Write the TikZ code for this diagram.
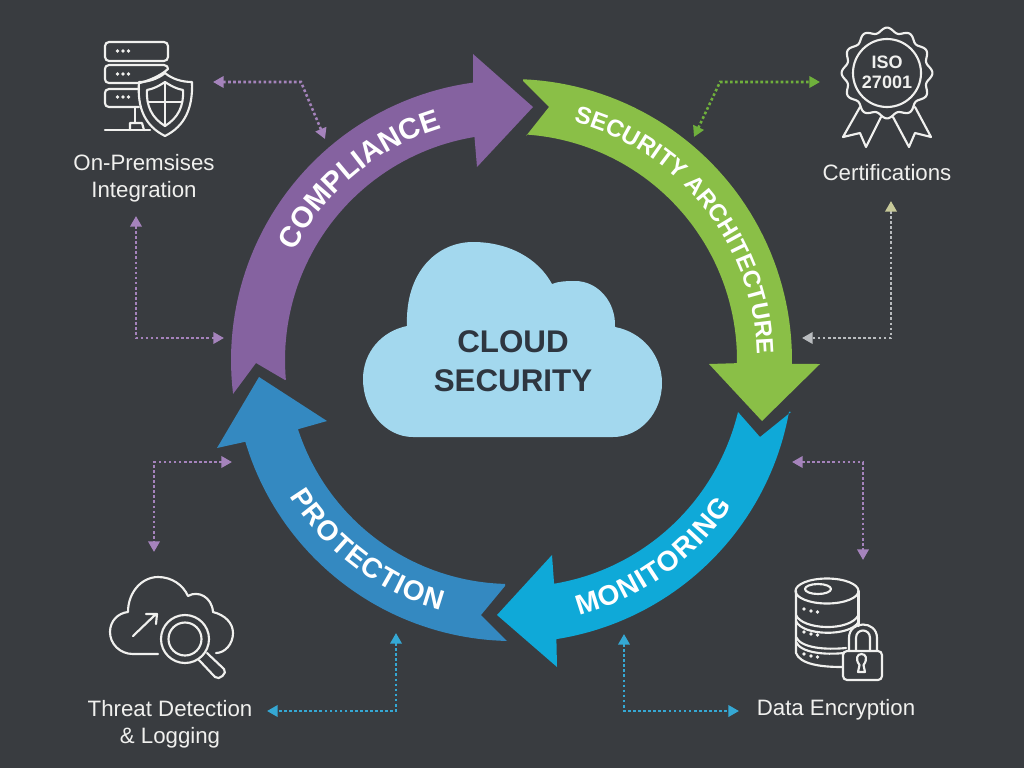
\documentclass[tikz,border=0pt]{standalone}
\usepackage{fontspec}
\setmainfont{Liberation Sans}
\usetikzlibrary{arrows.meta,decorations.text}
\definecolor{bgc}{HTML}{393C40}
\definecolor{purp}{HTML}{8562A0}
\definecolor{gren}{HTML}{8ABF47}
\definecolor{cyanc}{HTML}{0FA9D8}
\definecolor{blu}{HTML}{3489C1}
\definecolor{cloudc}{HTML}{A3D8EE}
\definecolor{ink}{HTML}{2E3640}
\definecolor{icon}{HTML}{F0F0EE}
\definecolor{lpurp}{HTML}{A583BC}
\definecolor{lgreen}{HTML}{6FB03C}
\definecolor{lblue}{HTML}{35A8D4}
\definecolor{lgrey}{HTML}{B9BCBF}
\newcommand{\ringfont}[1]{\fontsize{#1}{#1}\selectfont\bfseries}
\tikzset{
  icn/.style={draw=icon,line width=1.6pt,line cap=round,line join=round},
  dotfill/.style={fill=icon,draw=none},
  lab/.style={text=icon,font=\fontsize{16.7}{20.5}\selectfont,align=center,inner sep=0pt},
  link/.style={line width=1.9pt,dash pattern=on 2pt off 1.8pt,{Triangle[length=8pt,width=8.5pt]}-{Triangle[length=8pt,width=8.5pt]}},
  ringtext/.style={decorate,decoration={text along path,text align=center,text color=white,text={#1}}}
}
\begin{document}
\begin{tikzpicture}[x=0.75pt,y=-0.75pt]
\useasboundingbox (0,0) rectangle (1024,768);
\fill[bgc] (0,0) rectangle (1024,768);

% ring arrows
\fill[purp] (233,394) -- (256,363) -- (285,380)
  -- plot[domain=175:260.7,samples=50] ({511+226*cos(\x)},{360+226*sin(\x)})
  -- (477,167) -- (533,107) -- (473,54)
  -- plot[domain=262.2:173,samples=50] ({511+280*cos(\x)},{360+280*sin(\x)}) -- cycle;
\fill[gren] (523,81) -- (549,107) -- (526,136)
  -- plot[domain=-86:0.8,samples=50] ({511+226*cos(\x)},{360+226*sin(\x)})
  -- (709,364) -- (762,421) -- (820,364)
  -- plot[domain=0.8:-87.5,samples=50] ({511+281*cos(\x)},{360+281*sin(\x)}) -- cycle;
\fill[cyanc] (791,412) -- (760,437) -- (738,412)
  -- plot[domain=12.5:79.5,samples=50] ({513+(230.5-5*(\x-12.5)/67)*cos(\x)},{362+(230.5-5*(\x-12.5)/67)*sin(\x)})
  -- (552,555) -- (497,615) -- (557,667)
  -- plot[domain=81.1:10.2,samples=50] ({513+280.5*cos(\x)},{362+280.5*sin(\x)}) -- cycle;
\fill[blu] (505,586) -- (481,615) -- (507,641)
  -- plot[domain=90.8:162.9,samples=50] ({511+(281-3*(\x-90.8)/72)*cos(\x)},{360+(281-3*(\x-90.8)/72)*sin(\x)})
  -- (217,448) -- (259,377) -- (327,421)
  -- plot[domain=162:91.5,samples=50] ({511+(224)*cos(\x)},{360+(224)*sin(\x)}) -- cycle;

% ring labels
\path[ringtext={|\ringfont{22}|COMPLIANCE}] plot[domain=195:265,samples=60] ({511+242*cos(\x)},{360+242*sin(\x)});
\path[ringtext={|\ringfont{18}|SECURITY ARCHITECTURE}] plot[domain=-86:9.4,samples=80] ({511+246*cos(\x)},{360+246*sin(\x)});
\path[ringtext={|\ringfont{21}|M{\kern0.9pt}O{\kern0.9pt}N{\kern0.9pt}I{\kern0.9pt}T{\kern0.9pt}O{\kern0.9pt}R{\kern0.9pt}I{\kern0.9pt}N{\kern0.9pt}G}] plot[domain=90:18.6,samples=60] ({513+262*cos(\x)},{362+262*sin(\x)});
\path[ringtext={|\ringfont{21}|P{\kern0.9pt}R{\kern0.9pt}O{\kern0.9pt}T{\kern0.9pt}E{\kern0.9pt}C{\kern0.9pt}T{\kern0.9pt}I{\kern0.9pt}O{\kern0.9pt}N}] plot[domain=163:91,samples=60] ({511+260*cos(\x)},{360+260*sin(\x)});

% central cloud
\fill[cloudc] (413,437) .. controls (385,437) and (363,410) .. (363,379)
  .. controls (363,352) and (382,331) .. (407,326)
  .. controls (405,272) and (437,242) .. (473,242)
  .. controls (508,242) and (538,258) .. (552,284)
  .. controls (560,281) and (567,281) .. (575,281)
  .. controls (598,281) and (616,302) .. (615,327)
  .. controls (642,332) and (662,355) .. (662,383)
  .. controls (662,413) and (640,437) .. (613,437) -- cycle;
\node[text=ink,font=\fontsize{23.5}{29}\selectfont\bfseries,align=center,inner sep=0pt] (core) at (513,361) {CLOUD\\SECURITY};

% labels
\node[lab] (prem) at (144,178) {On-Premsises\\Integration};
\node[lab] (cert) at (887,173) {Certifications};
\node[lab] (threat) at (170,724) {Threat Detection\\\& Logging};
\node[lab] (crypt) at (836,710) {Data Encryption};

% connector ends
\coordinate (a1) at (213,82); \coordinate (a2) at (301,82); \coordinate (a3) at (325,139);
\coordinate (b1) at (136,216); \coordinate (b2) at (136,338); \coordinate (b3) at (224,338);
\coordinate (c1) at (694,137); \coordinate (c2) at (720,82); \coordinate (c3) at (820,82);
\coordinate (d1) at (891,201); \coordinate (d2) at (891,338); \coordinate (d3) at (802,338);
\coordinate (e1) at (232,462); \coordinate (e2) at (154,462); \coordinate (e3) at (154,552);
\coordinate (f1) at (396,633); \coordinate (f2) at (396,711); \coordinate (f3) at (267,711);
\coordinate (g1) at (624,634); \coordinate (g2) at (624,711); \coordinate (g3) at (739,711);
\coordinate (h1) at (792,462); \coordinate (h2) at (863,462); \coordinate (h3) at (863,560);

\draw[link,lpurp] (a1) -- (a2) -- (a3);
\draw[link,lpurp] (b1) -- (b2) -- (b3);
\draw[link,lgreen] (c1) -- (c2) -- (c3);
\draw[line width=1.9pt,dash pattern=on 2pt off 1.8pt,lgrey,{Triangle[length=8pt,width=8.5pt,color=lgrey!80!yellow]}-{Triangle[length=8pt,width=8.5pt,color=lgrey]}] (d1) -- (d2) -- (d3);
\draw[link,lpurp] (e1) -- (e2) -- (e3);
\draw[link,lblue] (f1) -- (f2) -- (f3);
\draw[link,lblue] (g1) -- (g2) -- (g3);
\draw[link,lpurp] (h1) -- (h2) -- (h3);

% icon: server + shield
\draw[icn,rounded corners=3pt] (105,42) rectangle (168,61);
\draw[icn] (140,83) -- (109,83) .. controls (106,83) and (105,81) .. (105,79) -- (105,69) .. controls (105,67) and (106,65) .. (109,65) -- (164,65) .. controls (167,65) and (168,67) .. (168,69) .. controls (160,76) and (150,80) .. (140,83);
\draw[icn] (139,107) -- (109,107) .. controls (106,107) and (105,105) .. (105,103) -- (105,93) .. controls (105,91) and (106,89) .. (109,89) -- (139,89);
\foreach \yy in {51,74,97} \foreach \xx in {117.5,123,128.5} \fill[dotfill] (\xx,\yy) circle[radius=1.8];
\draw[icn] (135,107) -- (135,123);
\draw[icn] (130,130) -- (130,123) -- (142,123) -- (144,130);
\draw[icn] (105,130) -- (150,130);
\draw[icn] (165,73) .. controls (172,79) and (182,82) .. (192,82) .. controls (193,108) and (185,126) .. (165,136) .. controls (145,126) and (137,108) .. (139,82) .. controls (148,82) and (158,79) .. (165,73) -- cycle;
\draw[icn] (165,82) .. controls (171,86) and (177,89) .. (183,90) .. controls (184,106) and (178,118) .. (165,126) .. controls (152,118) and (146,106) .. (147,90) .. controls (153,89) and (159,86) .. (165,82) -- cycle;
\draw[icn] (165,82) -- (165,126) (148,102) -- (182,102);

% icon: ISO badge
\draw[icn] plot[domain=0:360,samples=240] ({887+(43+2.4*cos(12*\x))*cos(\x)},{73+(43+2.4*cos(12*\x))*sin(\x)}) -- cycle;
\draw[icn] (887,73) circle[radius=34];
\draw[icn] (860,107) -- (843,137) -- (860,133) -- (866,147) -- (881,117);
\draw[icn] (893,117) -- (909,147) -- (915,133) -- (931,137) -- (915,107);
\node[text=icon,font=\fontsize{13.5}{15}\selectfont\bfseries,align=center,inner sep=0pt] (iso) at (887,72) {ISO\\27001};

% icon: cloud + magnifier
\draw[icn] (158,654) -- (133,654) .. controls (120,654) and (110,644) .. (110,632) .. controls (110,621) and (118,613) .. (128,612) .. controls (128,592) and (142,577) .. (158,577) .. controls (172,577) and (183,585) .. (188,596) .. controls (198,590) and (212,597) .. (213,612) .. controls (225,615) and (233,623) .. (233,633) .. controls (233,644) and (225,653) .. (216,653);
\draw[icn] (133,636) -- (156,614) (146,614) -- (157,614) -- (156,624);
\draw[icn] (185,639) circle[radius=24];
\draw[icn] (185,639) circle[radius=16.5];
\draw[icn] (199,660) -- (215,677) .. controls (219,681) and (228,673) .. (224,669) -- (207,653);

% icon: database + lock
\draw[icn] (827,591) ellipse[x radius=31.5,y radius=12.5];
\draw[icn] (818,589) ellipse[x radius=13,y radius=5];
\draw[icn] (796,591) -- (796,653) .. controls (800,664) and (820,667) .. (842,667);
\draw[icn] (858.5,591) -- (858.5,626);
\draw[icn] (796,615) .. controls (802,630) and (850,632) .. (858.5,615);
\draw[icn] (796,621) .. controls (802,636) and (850,637) .. (858.5,622);
\draw[icn] (796,637) .. controls (801,648) and (825,650) .. (846,648);
\draw[icn] (796,642) .. controls (801,653) and (825,655) .. (844,653);
\foreach \yy in {0,23,45} {
  \fill[dotfill] (804,609+\yy) circle[radius=1.9];
  \fill[dotfill] (811,611+\yy) circle[radius=1.9];
  \fill[dotfill] (817.5,612+\yy) circle[radius=1.9];
}
\draw[icn,fill=bgc,rounded corners=3pt] (843,651) rectangle (882,680);
\draw[icn] (849,651) -- (849,638) .. controls (849,620) and (877,620) .. (877,638) -- (877,651);
\draw[icn] (856,651) -- (856,638) .. controls (856,628) and (870,628) .. (870,638) -- (870,651);
\draw[icn] (859.5,665) .. controls (855,659) and (857,654) .. (861.5,654) .. controls (866,654) and (868,659) .. (863.5,665) -- (865,672) -- (858,672) -- cycle;
\end{tikzpicture}
\end{document}
